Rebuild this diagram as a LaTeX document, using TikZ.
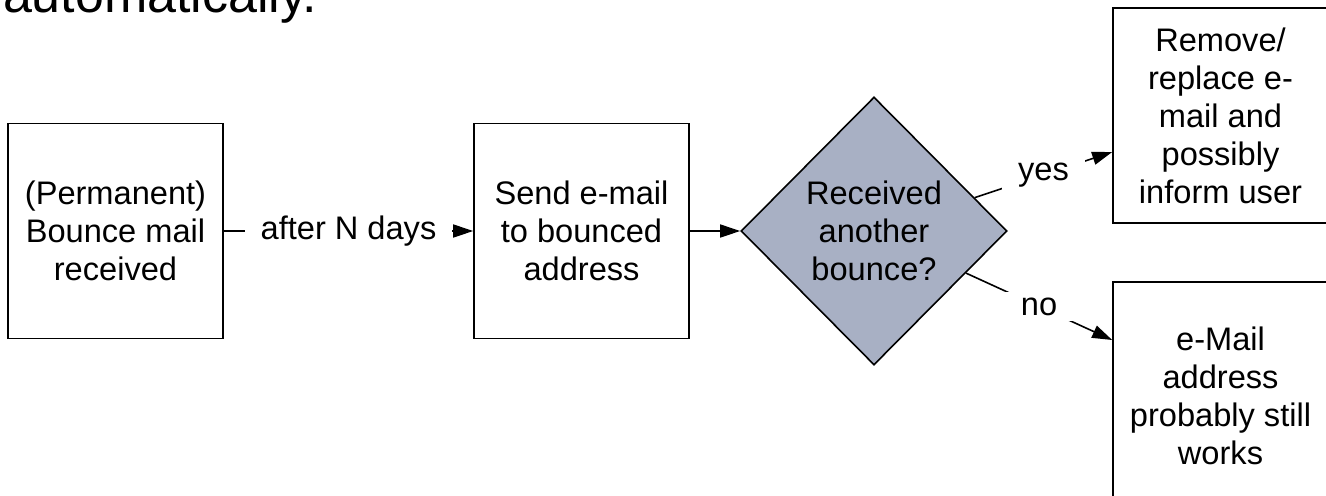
\documentclass[tikz,border=0pt]{standalone}
\usepackage{fontspec}
\setmainfont{Liberation Sans}
\usetikzlibrary{shapes.geometric,arrows.meta}
\definecolor{deciblue}{RGB}{168,176,196}

\begin{document}
\begin{tikzpicture}[x=0.5pt,y=-0.5pt,
  every node/.style={font=\fontsize{16.3}{19}\selectfont,align=center},
  box/.style={draw,line width=0.8pt,minimum width=107.5pt,minimum height=107.5pt,inner sep=0pt},
  decide/.style={diamond,draw,line width=0.8pt,fill=deciblue,minimum width=133pt,minimum height=134pt,inner sep=0pt},
  flow/.style={line width=0.8pt,-{Triangle[length=10pt,width=6.5pt]}},
  lbl/.style={fill=white,inner xsep=8pt,inner ysep=3pt}]
\useasboundingbox (0,0) rectangle (1326,495);
\clip (0,0) rectangle (1326,495);

\node[anchor=base west,font=\fontsize{26}{30}\selectfont] (head) at (-4,12) {automatically.};

\node[box] (bounce) at (115.5,231) {(Permanent)\\Bounce mail\\received};
\node[box] (send) at (581.5,231) {Send e-mail\\to bounced\\address};
\node[decide] (check) at (874,231) {Received\\another\\bounce?};
\node[box] (remove) at (1220.5,115.5) {Remove/\\replace e-\\mail and\\possibly\\inform user};
\node[box,minimum height=114pt] (works) at (1220.5,396) {e-Mail\\address\\probably still\\works};

\coordinate (yesend) at ([yshift=-18.25pt]remove.west);
\coordinate (noend) at ([yshift=28pt]works.west);

\draw[flow] (bounce) -- node[lbl] {after N days} (send);
\draw[flow] (send) -- (check);
\draw[flow] (check) -- node[lbl] {yes} (yesend);
\draw[flow] (check) -- node[lbl] {no} (noend);
\end{tikzpicture}
\end{document}
